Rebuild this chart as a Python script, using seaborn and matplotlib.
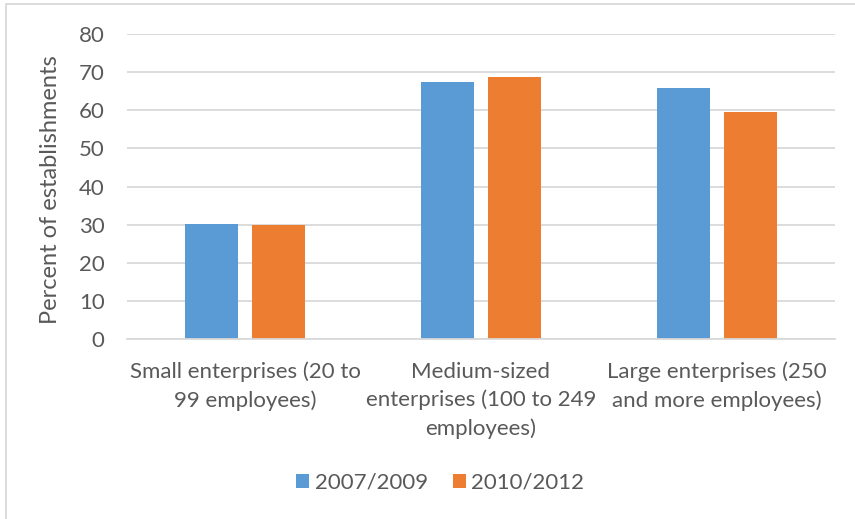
import matplotlib
matplotlib.use("Agg")
import matplotlib.pyplot as plt
import seaborn as sns
import pandas as pd
from matplotlib.patches import Rectangle

categories = [
    "Small enterprises (20 to\n99 employees)",
    "Medium-sized\nenterprises (100 to 249\nemployees)",
    "Large enterprises (250\nand more employees)",
]
periods = ["2007/2009", "2010/2012"]
values_2007_2009 = [30.3, 67.3, 65.7]
values_2010_2012 = [29.9, 68.7, 59.6]
y_ticks = [0, 10, 20, 30, 40, 50, 60, 70, 80]

df = pd.DataFrame({
    "category": categories * 2,
    "period": [periods[0]] * 3 + [periods[1]] * 3,
    "value": values_2007_2009 + values_2010_2012,
})

sns.set_theme(style="white")
plt.rcParams["font.family"] = ["Lato", "DejaVu Sans"]
text_color = "#595959"

fig = plt.figure(figsize=(8.55, 5.19), dpi=100)
ax = fig.add_axes([0.1485, 0.3462, 0.8281, 0.5888])

sns.barplot(
    data=df, x="category", y="value", hue="period",
    palette=["#5B9BD5", "#ED7D31"], saturation=1, width=0.568, gap=0.21,
    edgecolor="none", linewidth=0, ax=ax, legend=True,
)

ax.set_ylim(0, 80)
ax.set_xlim(-0.5, 2.5)
ax.set_yticks(y_ticks)
ax.set_yticklabels([str(t) for t in y_ticks])
ax.yaxis.grid(True, color="#D9D9D9", linewidth=1.3)
ax.set_axisbelow(True)
for s in ["top", "right", "left"]:
    ax.spines[s].set_visible(False)
ax.spines["bottom"].set_color("#D9D9D9")
ax.spines["bottom"].set_linewidth(1.3)
ax.tick_params(axis="both", length=0, colors=text_color, labelsize=16)
ax.tick_params(axis="y", pad=16)
ax.tick_params(axis="x", pad=16)
for lbl in ax.get_xticklabels():
    lbl.set_multialignment("center")
    lbl.set_linespacing(1.5)

ax.set_xlabel("")
ax.set_ylabel("Percent of establishments", fontsize=17, color=text_color)
ax.yaxis.set_label_coords(-0.093, 0.49)

leg = ax.legend(
    loc="center", bbox_to_anchor=(0.515, 0.07), bbox_transform=fig.transFigure,
    ncol=2, frameon=False, fontsize=16, handlelength=0.6, handleheight=0.6,
    handletextpad=0.25, columnspacing=1.1, title=None,
)
for t in leg.get_texts():
    t.set_color(text_color)

# chart border (left and top edges visible)
fig.patches.append(Rectangle((6 / 855, -0.1), 1.2, (519 - 4) / 519 + 0.1,
                             transform=fig.transFigure, fill=False,
                             edgecolor="#D9D9D9", linewidth=1.3))

fig.savefig("out.png", dpi=100)
